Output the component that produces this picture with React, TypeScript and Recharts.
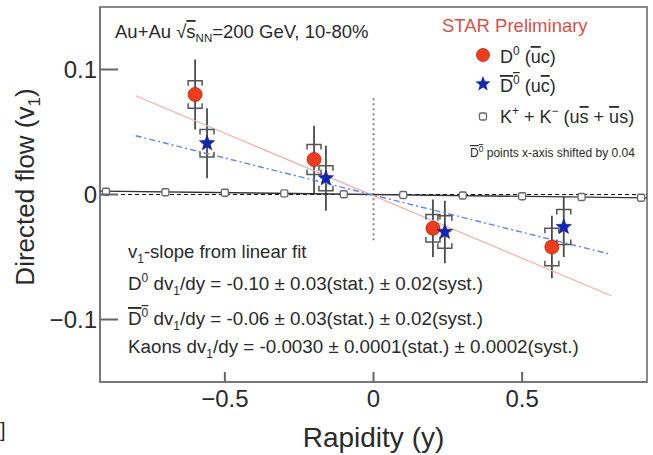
import { ScatterChart, Scatter, XAxis, YAxis, ErrorBar, ReferenceLine, ReferenceArea, Label } from 'recharts';

// D0 (red circles)
const d0Rapidity = [-0.6, -0.2, 0.2, 0.6];
const d0V1 = [0.08, 0.028, -0.027, -0.042];
const d0Stat = [0.028, 0.027, 0.023, 0.025];
const d0Sys = [0.011, 0.012, 0.011, 0.015];

// anti-D0 (blue stars), x shifted by 0.04
const d0barRapidity = [-0.56, -0.16, 0.24, 0.64];
const d0barV1 = [0.041, 0.013, -0.03, -0.026];
const d0barStat = [0.028, 0.026, 0.025, 0.024];
const d0barSys = [0.011, 0.01, 0.013, 0.014];

// K+ + K-
const kaonRapidity = [-0.9, -0.7, -0.5, -0.3, -0.1, 0.1, 0.3, 0.5, 0.7, 0.9];
const kaonV1 = [0.0022, 0.0018, 0.0014, 0.0009, 0.0002, -0.0004, -0.0008, -0.0014, -0.002, -0.0026];

// linear fits
const d0FitX = [-0.8, 0.8];
const d0FitY = [0.079, -0.081];
const d0barFitY = [0.047, -0.048];
const kaonFitX = [-0.92, 0.92];
const kaonFitY = [0.0027, -0.0027];

// dotted marker at y = 0
const midLineY = [0.077, -0.038];

const xDomain = [-0.92, 0.92];
const yDomain = [-0.15, 0.15];
const xTicks = [-0.5, 0, 0.5];
const yTicks = [-0.1, 0, 0.1];

const d0Points = d0Rapidity.map((x, i) => ({ x, y: d0V1[i], stat: d0Stat[i] }));
const d0barPoints = d0barRapidity.map((x, i) => ({ x, y: d0barV1[i], stat: d0barStat[i] }));
const sysTop = [
  ...d0Rapidity.map((x, i) => ({ x, y: d0V1[i] + d0Sys[i] })),
  ...d0barRapidity.map((x, i) => ({ x, y: d0barV1[i] + d0barSys[i] })),
];
const sysBottom = [
  ...d0Rapidity.map((x, i) => ({ x, y: d0V1[i] - d0Sys[i] })),
  ...d0barRapidity.map((x, i) => ({ x, y: d0barV1[i] - d0barSys[i] })),
];
const kaonPoints = kaonRapidity.map((x, i) => ({ x, y: kaonV1[i] }));
const d0Fit = d0FitX.map((x, i) => ({ x, y: d0FitY[i] }));
const d0barFit = d0FitX.map((x, i) => ({ x, y: d0barFitY[i] }));
const kaonFit = kaonFitX.map((x, i) => ({ x, y: kaonFitY[i] }));

const FONT = '"Liberation Sans", Arial, Helvetica, sans-serif';
const INK = '#2a2a2a';
const RED = '#f03c1e';
const BLUE = '#1226b4';

const fmt = (v: number) => (v < 0 ? '\u2212' + String(-v) : String(v));

function starPath(cx: number, cy: number, ro: number, ri: number) {
  let d = '';
  for (let k = 0; k < 10; k++) {
    const r = k % 2 === 0 ? ro : ri;
    const a = -Math.PI / 2 + (k * Math.PI) / 5;
    d += (k === 0 ? 'M' : 'L') + (cx + r * Math.cos(a)).toFixed(2) + ',' + (cy + r * Math.sin(a)).toFixed(2);
  }
  return d + 'Z';
}

const RedDot = (p: any) => <circle cx={p.cx} cy={p.cy} r={7} fill={RED} stroke="#b02a10" strokeWidth={0.8} />;
const BlueStar = (p: any) => <path d={starPath(p.cx, p.cy, 8, 3.4)} fill={BLUE} stroke="#0a1680" strokeWidth={0.6} />;
const KaonBox = (p: any) => (
  <rect x={p.cx - 3.5} y={p.cy - 3.5} width={7} height={7} rx={1.5} fill="#fff" stroke="#666" strokeWidth={1.3} />
);
const BracketTop = (p: any) => (
  <path d={`M${p.cx - 7},${p.cy + 5}V${p.cy}H${p.cx + 7}V${p.cy + 5}`} fill="none" stroke="#555" strokeWidth={1.5} />
);
const BracketBottom = (p: any) => (
  <path d={`M${p.cx - 7},${p.cy - 5}V${p.cy}H${p.cx + 7}V${p.cy - 5}`} fill="none" stroke="#555" strokeWidth={1.5} />
);
const NoDot = () => <g />;

const XTick = ({ x, y, payload }: any) => (
  <g>
    <line x1={x} x2={x} y1={y} y2={y - 10} stroke="#666" strokeWidth={2} />
    <text x={x} y={y + 25} textAnchor="middle" fontSize={24} fontFamily={FONT} fill={INK}>{fmt(payload.value)}</text>
  </g>
);

const YTick = ({ x, y, payload }: any) => (
  <g>
    <line x1={x} x2={x + 18} y1={y} y2={y} stroke="#666" strokeWidth={2} />
    <text x={x - 3} y={y + 8} textAnchor="end" fontSize={24} fontFamily={FONT} fill={INK}>{fmt(payload.value)}</text>
  </g>
);

const XTitle = ({ viewBox }: any) => (
  <text x={viewBox.x + viewBox.width / 2} y={viewBox.y + 65} textAnchor="middle" fontSize={28} fontFamily={FONT} fill={INK}>
    Rapidity (y)
  </text>
);

const YTitle = () => (
  <text x={34} y={187} transform="rotate(-90, 34, 187)" textAnchor="middle" fontSize={26} fontFamily={FONT} fill={INK}>
    Directed flow (v<tspan dy={6} fontSize={17}>1</tspan><tspan dy={-6}>)</tspan>
  </text>
);

export default function App() {
  const OV = { textDecoration: 'overline' } as const;
  return (
    <div style={{ position: 'absolute', left: 0, top: 0, width: 653, height: 455, background: '#fff', fontFamily: FONT }}>
      <ScatterChart width={653} height={455} margin={{ top: 7, right: 6, bottom: 0, left: 0 }}>
        <XAxis
          type="number"
          dataKey="x"
          domain={xDomain}
          ticks={xTicks}
          allowDataOverflow
          height={73}
          tickSize={0}
          tickMargin={0}
          tickLine={false}
          axisLine={{ stroke: '#777', strokeWidth: 2 }}
          tick={<XTick />}
        >
          <Label content={<XTitle />} />
        </XAxis>
        <YAxis
          type="number"
          dataKey="y"
          domain={yDomain}
          ticks={yTicks}
          allowDataOverflow
          width={100}
          tickSize={0}
          tickMargin={0}
          tickLine={false}
          axisLine={{ stroke: '#777', strokeWidth: 2 }}
          tick={<YTick />}
        >
          <Label content={<YTitle />} />
        </YAxis>
        <ReferenceArea x1={xDomain[0]} x2={xDomain[1]} y1={yDomain[0]} y2={yDomain[1]} fill="none" stroke="#8a8a8a" strokeWidth={2} />
        <ReferenceLine y={0} stroke="#111" strokeWidth={1.2} strokeDasharray="4 3" />
        <ReferenceLine segment={[{ x: 0, y: midLineY[0] }, { x: 0, y: midLineY[1] }]} stroke="#888" strokeWidth={2} strokeDasharray="2 3" />

        <Scatter data={kaonFit} shape={NoDot} line={{ stroke: '#333', strokeWidth: 1.4 }} isAnimationActive={false} />
        <Scatter data={d0Fit} shape={NoDot} line={{ stroke: '#eeb0ac', strokeWidth: 1.2 }} isAnimationActive={false} />
        <Scatter data={d0barFit} shape={NoDot} line={{ stroke: '#6684e4', strokeWidth: 1.4, strokeDasharray: '6 3 2 3' }} isAnimationActive={false} />
        <Scatter data={kaonPoints} shape={KaonBox} isAnimationActive={false} />

        <Scatter data={sysTop} shape={BracketTop} isAnimationActive={false} />
        <Scatter data={sysBottom} shape={BracketBottom} isAnimationActive={false} />
        <Scatter data={d0Points} shape={RedDot} isAnimationActive={false}>
          <ErrorBar dataKey="stat" direction="y" width={0} stroke="#4a4a4a" strokeWidth={1.8} />
        </Scatter>
        <Scatter data={d0barPoints} shape={BlueStar} isAnimationActive={false}>
          <ErrorBar dataKey="stat" direction="y" width={0} stroke="#4a4a4a" strokeWidth={1.8} />
        </Scatter>
      </ScatterChart>

      <svg width={653} height={455} style={{ position: 'absolute', left: 0, top: 0, pointerEvents: 'none' }} fontFamily={FONT} fill={INK}>
        <text x={115} y={38} fontSize={18.5}>
          Au+Au {'\u221A'}<tspan style={OV}>s</tspan><tspan dy={4} fontSize={11.5}>NN</tspan>
          <tspan dy={-4}>=200 GeV, 10-80%</tspan>
        </text>
        <text x={442} y={32} fontSize={18.5} fill="#d4524c">STAR Preliminary</text>

        <circle cx={483} cy={55} r={6.5} fill={RED} stroke="#b02a10" strokeWidth={0.8} />
        <text x={500} y={63} fontSize={18}>
          D<tspan dy={-8} fontSize={12}>0</tspan><tspan dy={8}> (</tspan><tspan style={OV}>u</tspan>c)
        </text>
        <path d={starPath(483, 84, 8, 3.4)} fill={BLUE} />
        <text x={500} y={92} fontSize={18}>
          <tspan style={OV}>D<tspan dy={-8} fontSize={12}>0</tspan></tspan><tspan dy={8}> (u</tspan><tspan style={OV}>c</tspan>)
        </text>
        <rect x={479.5} y={113} width={7} height={7} rx={1.5} fill="#fff" stroke="#666" strokeWidth={1.3} />
        <text x={500} y={123} fontSize={18}>
          K<tspan dy={-8} fontSize={12}>+</tspan><tspan dy={8}> + K</tspan><tspan dy={-8} fontSize={12}>{'\u2212'}</tspan>
          <tspan dy={8}> (u</tspan><tspan style={OV}>s</tspan> + <tspan style={OV}>u</tspan>s)
        </text>
        <text x={470} y={157} fontSize={12}>
          <tspan style={OV}>D<tspan dy={-5} fontSize={8.5}>0</tspan></tspan><tspan dy={5}> points x-axis shifted by 0.04</tspan>
        </text>

        <text x={128} y={258} fontSize={18.5}>
          v<tspan dy={5} fontSize={12}>1</tspan><tspan dy={-5}>-slope from linear fit</tspan>
        </text>
        <text x={128} y={290} fontSize={18.8}>
          D<tspan dy={-8} fontSize={12}>0</tspan><tspan dy={8}> dv</tspan><tspan dy={5} fontSize={12}>1</tspan>
          <tspan dy={-5}>/dy = -0.10 {'\u00B1'} 0.03(stat.) {'\u00B1'} 0.02(syst.)</tspan>
        </text>
        <text x={128} y={325} fontSize={18.8}>
          <tspan style={OV}>D<tspan dy={-8} fontSize={12}>0</tspan></tspan><tspan dy={8}> dv</tspan><tspan dy={5} fontSize={12}>1</tspan>
          <tspan dy={-5}>/dy = -0.06 {'\u00B1'} 0.03(stat.) {'\u00B1'} 0.02(syst.)</tspan>
        </text>
        <text x={128} y={353} fontSize={18.8}>
          Kaons dv<tspan dy={5} fontSize={12}>1</tspan>
          <tspan dy={-5}>/dy = -0.0030 {'\u00B1'} 0.0001(stat.) {'\u00B1'} 0.0002(syst.)</tspan>
        </text>
        <text x={0} y={437} fontSize={20}>]</text>
      </svg>
    </div>
  );
}
